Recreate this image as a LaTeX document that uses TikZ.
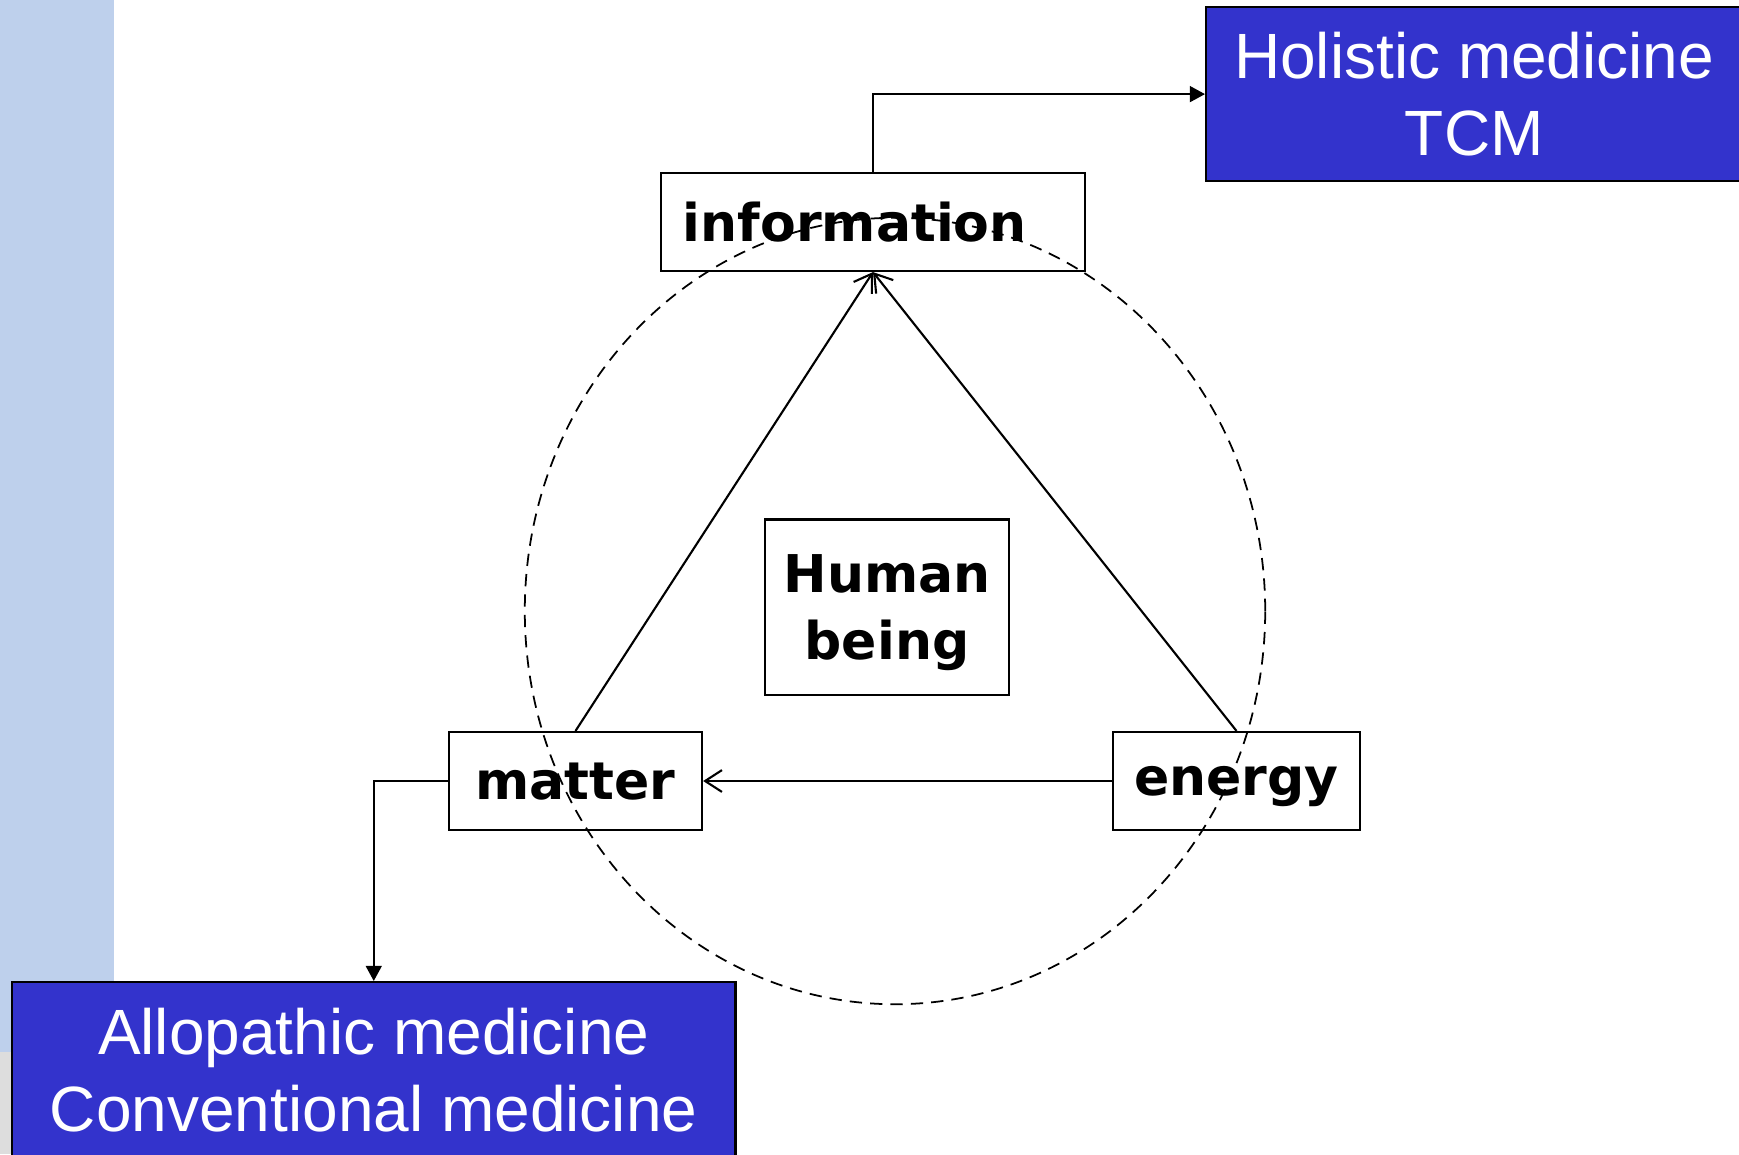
\documentclass[tikz,border=0pt]{standalone}
\usepackage{fontspec}
\setmainfont{Liberation Sans}
\newfontfamily\handfont{DejaVu Sans}
\usetikzlibrary{arrows.meta,positioning,calc}

\definecolor{stripblue}{HTML}{BED0EC}
\definecolor{stripgray}{HTML}{DDDDDD}
\definecolor{boxblue}{HTML}{3333CC}

\tikzset{
  term/.style={draw, line width=0.6pt, inner sep=0pt, text depth=0pt,
    font=\handfont\bfseries\fontsize{14.8pt}{19.3pt}\selectfont},
  medbox/.style={draw, line width=0.6pt, fill=boxblue, text=white, align=center,
    font=\fontsize{18.2pt}{21.9pt}\selectfont},
  link/.style={line width=0.6pt, -{Straight Barb[length=4.8pt,width=6.2pt]}},
  lead/.style={line width=0.6pt, -{Triangle[length=4.3pt,width=4.5pt]}},
}

\begin{document}
\begin{tikzpicture}[x=0.01cm, y=-0.01cm]
  \useasboundingbox (0,0) rectangle (1739,1154);
  % side band of the slide
  \fill[stripblue] (0,0) rectangle (114,1052);
  \fill[stripgray] (0,1052) rectangle (114,1154);

  \draw[dash pattern=on 3.5pt off 2.3pt, line width=0.5pt] (895,611) ellipse [x radius=3.7cm, y radius=3.93cm];

  \node[term, minimum width=4.24cm, minimum height=0.98cm, text width=3.8cm, align=left] (info) at (873,222) {information};
  \node[term, minimum width=2.53cm, minimum height=0.98cm] (matter) at (575.5,781) {matter};
  \node[term, minimum width=2.47cm, minimum height=0.98cm] (energy) at (1236.5,781) {energy};
  \node[term, minimum width=2.43cm, minimum height=1.75cm, align=center] (human) at (887,607) {Human\\being};

  \node[medbox, minimum width=5.36cm, minimum height=1.74cm, anchor=north west] (holistic) at (1205,6) {Holistic medicine\\TCM};
  \node[medbox, minimum width=7.23cm, minimum height=1.76cm, anchor=north west] (allopathic) at (11,981) {Allopathic medicine\\Conventional medicine};

  \draw[link] (matter.north) -- (info.south);
  \draw[link] (energy.north) -- (info.south);
  \draw[link] (energy.west) -- (matter.east);
  \draw[lead] (info.north) |- (holistic.west);
  \draw[lead] (matter.west) -| (allopathic.north);
\end{tikzpicture}
\end{document}
